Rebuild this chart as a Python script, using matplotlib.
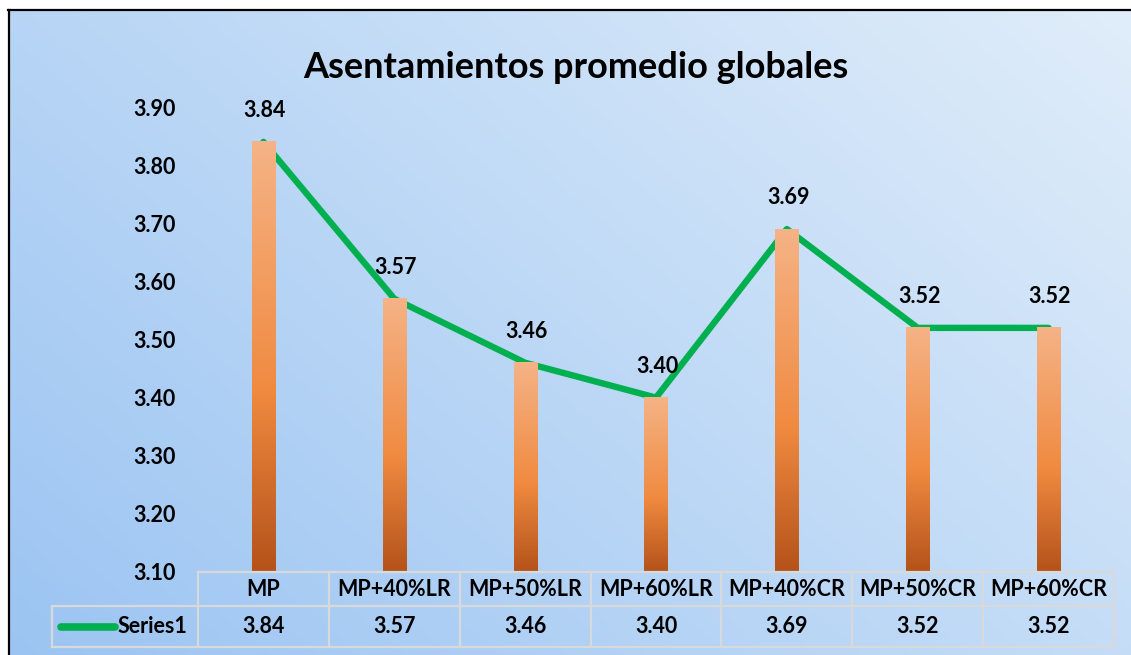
import numpy as np
import matplotlib
matplotlib.use("Agg")
import matplotlib.pyplot as plt
from matplotlib.colors import LinearSegmentedColormap
from matplotlib.transforms import blended_transform_factory
from matplotlib.lines import Line2D

categories = ["MP", "MP+40%LR", "MP+50%LR", "MP+60%LR", "MP+40%CR", "MP+50%CR", "MP+60%CR"]
values = [3.84, 3.57, 3.46, 3.40, 3.69, 3.52, 3.52]
series_name = "Series1"
yticks = [3.10, 3.20, 3.30, 3.40, 3.50, 3.60, 3.70, 3.80, 3.90]
title = "Asentamientos promedio globales"

plt.rcParams['font.family'] = ['Lato', 'DejaVu Sans']
W, H = 1131, 655
fig = plt.figure(figsize=(W / 100, H / 100), dpi=100)
fig.patch.set_facecolor('white')

FS = 15.5

# background gradient
bg = fig.add_axes([8 / W, 0, 1 - 8 / W, (H - 10) / H])
bg.set_axis_off()
nx, ny = 300, 200
xx, yy = np.meshgrid(np.linspace(0, 1, nx), np.linspace(0, 1, ny))
t = (xx * 0.6 + yy * 0.4)
c0 = np.array([0.61, 0.77, 0.95])
c1 = np.array([0.88, 0.93, 0.98])
img = c0[None, None, :] * (1 - t[..., None]) + c1[None, None, :] * t[..., None]
bg.imshow(img, origin='lower', extent=(0, 1, 0, 1), aspect='auto')
bg.set_xlim(0, 1)
bg.set_ylim(0, 1)
# frame border
fig.add_artist(Line2D([8.5 / W, 8.5 / W], [0, (H - 9.5) / H], color='black', lw=1.6))
fig.add_artist(Line2D([8 / W, 1], [(H - 9.5) / H, (H - 9.5) / H], color='black', lw=1.6))

left, right, bottom, top = 198, 1114, 572, 107
ax = fig.add_axes([left / W, (H - bottom) / H, (right - left) / W, (bottom - top) / H])
ax.patch.set_alpha(0)
for s in ax.spines.values():
    s.set_visible(False)
x = np.arange(len(categories))
ax.set_xlim(-0.5, len(categories) - 0.5)
ax.set_ylim(yticks[0], yticks[-1])
ax.set_yticks(yticks)
ax.set_yticklabels([f"{v:.2f}" for v in yticks], fontsize=FS, fontweight='bold')
ax.tick_params(axis='y', length=0, pad=16)
ax.set_xticks([])

# line
ax.plot(x, values, color='#00B050', lw=4.6, solid_capstyle='round', solid_joinstyle='round', zorder=2, clip_on=False)

# gradient bars
bar_cmap = LinearSegmentedColormap.from_list('bar', [(0.0, '#B4521A'), (0.42, '#F08A40'), (1.0, '#F5B386')])
bw = 0.176
grad = np.linspace(0, 1, 256).reshape(-1, 1)
for xi, v in zip(x, values):
    ax.imshow(grad, cmap=bar_cmap, origin='lower', aspect='auto',
              extent=(xi - bw / 2, xi + bw / 2, yticks[0], v), zorder=3)
    ax.annotate(f"{v:.2f}", (xi, v), xytext=(1, 22.5), textcoords='offset points',
                ha='center', va='center', fontsize=FS, fontweight='bold', zorder=5)
ax.set_xlim(-0.5, len(categories) - 0.5)
ax.set_ylim(yticks[0], yticks[-1])

# title
fig.text(576 / W, 1 - 68 / H, title, ha='center', va='center', fontsize=26, fontweight='bold')

# data table
tr = blended_transform_factory(ax.transData, ax.transAxes)
ph = bottom - top
def yf(py):
    return -(py - bottom) / ph
y0, y1, y2 = yf(572), yf(606), yf(647)
lc = '#D9D9D9'
lw = 1.6
xl = -0.5
xr = len(categories) - 0.5
unit = (right - left) / len(categories)
xleft = xl - (198 - 52) / unit
ax.plot([xl, xr], [y0, y0], transform=tr, color=lc, lw=lw, clip_on=False, zorder=6)
ax.plot([xleft, xr], [y1, y1], transform=tr, color=lc, lw=lw, clip_on=False, zorder=6)
ax.plot([xleft, xr], [y2, y2], transform=tr, color=lc, lw=lw, clip_on=False, zorder=6)
ax.plot([xleft, xleft], [y1, y2], transform=tr, color=lc, lw=lw, clip_on=False, zorder=6)
for k in range(len(categories) + 1):
    xb = xl + k
    ax.plot([xb, xb], [y0, y2], transform=tr, color=lc, lw=lw, clip_on=False, zorder=6)
for xi, c, v in zip(x, categories, values):
    ax.text(xi, (y0 + y1) / 2, c, transform=tr, ha='center', va='center', fontsize=FS, fontweight='bold')
    ax.text(xi, (y1 + y2) / 2, f"{v:.2f}", transform=tr, ha='center', va='center', fontsize=FS, fontweight='bold')
# legend key
kx0 = xl - (198 - 61) / unit
kx1 = xl - (198 - 115) / unit
ax.plot([kx0, kx1], [(y1 + y2) / 2] * 2, transform=tr, color='#00B050', lw=5.5,
        solid_capstyle='round', clip_on=False, zorder=7)
ax.text(xl - (198 - 118) / unit, (y1 + y2) / 2, series_name, transform=tr, ha='left', va='center',
        fontsize=FS, fontweight='bold')

fig.savefig('out.png', dpi=100)
